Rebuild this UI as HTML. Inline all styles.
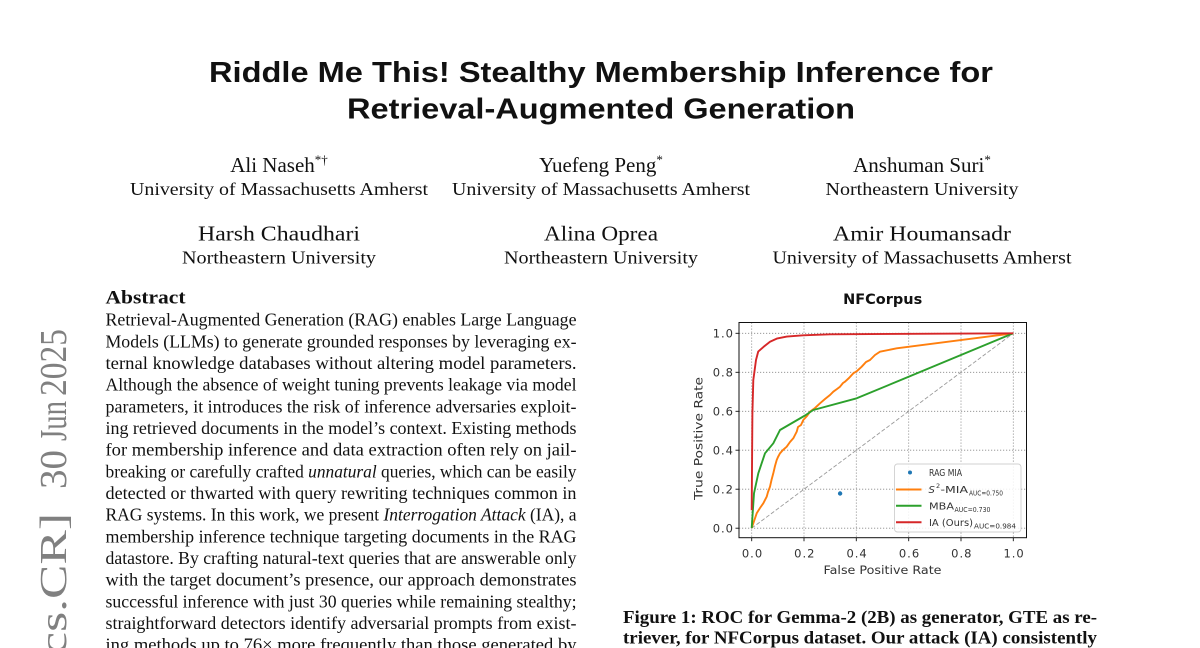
<!DOCTYPE html>
<html>
<head>
<meta charset="utf-8">
<style>
html,body{margin:0;padding:0;background:#fff;}
svg{display:block;}
.serif{font-family:"Liberation Serif","DejaVu Serif",serif;}
.sans{font-family:"Liberation Sans","DejaVu Sans",sans-serif;}
.dv{font-family:"DejaVu Sans","Liberation Sans",sans-serif;}
</style>
</head>
<body>
<svg width="1200" height="648" viewBox="0 0 1200 648" xmlns="http://www.w3.org/2000/svg">
<rect x="0" y="0" width="1200" height="648" fill="#fff"/>

<!-- arXiv stamp -->
<g class="serif" fill="#808080" font-size="38">
  <text transform="translate(66,396) rotate(-90)" textLength="67" lengthAdjust="spacingAndGlyphs">2025</text>
  <text transform="translate(66,441) rotate(-90)" textLength="40" lengthAdjust="spacingAndGlyphs">Jun</text>
  <text transform="translate(66,489) rotate(-90)" textLength="39" lengthAdjust="spacingAndGlyphs">30</text>
  <text transform="translate(66,672) rotate(-90)" textLength="159" lengthAdjust="spacingAndGlyphs">[cs.CR]</text>
</g>

<!-- Title -->
<g class="sans" font-weight="bold" font-size="29" fill="#111">
  <text x="209" y="82" textLength="784" lengthAdjust="spacingAndGlyphs">Riddle Me This! Stealthy Membership Inference for</text>
  <text x="347" y="118.5" textLength="508" lengthAdjust="spacingAndGlyphs">Retrieval-Augmented Generation</text>
</g>

<!-- Authors -->
<g class="serif" fill="#111" text-anchor="middle">
  <text x="279" y="172" font-size="21">Ali Naseh<tspan font-size="13" dy="-8">*†</tspan></text>
  <text x="601" y="172" font-size="21">Yuefeng Peng<tspan font-size="13" dy="-8">*</tspan></text>
  <text x="922" y="172" font-size="21">Anshuman Suri<tspan font-size="13" dy="-8">*</tspan></text>
  <text x="279" y="195" font-size="18" textLength="298" lengthAdjust="spacingAndGlyphs">University of Massachusetts Amherst</text>
  <text x="601" y="195" font-size="18" textLength="298" lengthAdjust="spacingAndGlyphs">University of Massachusetts Amherst</text>
  <text x="922" y="195" font-size="18" textLength="193" lengthAdjust="spacingAndGlyphs">Northeastern University</text>

  <text x="279" y="240.5" font-size="21" textLength="162" lengthAdjust="spacingAndGlyphs">Harsh Chaudhari</text>
  <text x="601" y="240.5" font-size="21" textLength="114" lengthAdjust="spacingAndGlyphs">Alina Oprea</text>
  <text x="922" y="240.5" font-size="21" textLength="178" lengthAdjust="spacingAndGlyphs">Amir Houmansadr</text>
  <text x="279" y="263.5" font-size="18" textLength="194" lengthAdjust="spacingAndGlyphs">Northeastern University</text>
  <text x="601" y="263.5" font-size="18" textLength="194" lengthAdjust="spacingAndGlyphs">Northeastern University</text>
  <text x="922" y="263.5" font-size="18" textLength="299" lengthAdjust="spacingAndGlyphs">University of Massachusetts Amherst</text>
</g>

<!-- Abstract -->
<g class="serif" fill="#111">
  <text x="105.5" y="303.3" font-size="19" font-weight="bold" textLength="80" lengthAdjust="spacingAndGlyphs">Abstract</text>
  <g font-size="18">
    <text x="105.5" y="325.7" textLength="471" lengthAdjust="spacingAndGlyphs">Retrieval-Augmented Generation (RAG) enables Large Language</text>
    <text x="105.5" y="347.3" textLength="471" lengthAdjust="spacingAndGlyphs">Models (LLMs) to generate grounded responses by leveraging ex-</text>
    <text x="105.5" y="369" textLength="471" lengthAdjust="spacingAndGlyphs">ternal knowledge databases without altering model parameters.</text>
    <text x="105.5" y="390.7" textLength="471" lengthAdjust="spacingAndGlyphs">Although the absence of weight tuning prevents leakage via model</text>
    <text x="105.5" y="412.3" textLength="471" lengthAdjust="spacingAndGlyphs">parameters, it introduces the risk of inference adversaries exploit-</text>
    <text x="105.5" y="434" textLength="471" lengthAdjust="spacingAndGlyphs">ing retrieved documents in the model’s context. Existing methods</text>
    <text x="105.5" y="455.7" textLength="471" lengthAdjust="spacingAndGlyphs">for membership inference and data extraction often rely on jail-</text>
    <text x="105.5" y="477.5" textLength="471" lengthAdjust="spacingAndGlyphs">breaking or carefully crafted <tspan font-style="italic">unnatural</tspan> queries, which can be easily</text>
    <text x="105.5" y="499" textLength="471" lengthAdjust="spacingAndGlyphs">detected or thwarted with query rewriting techniques common in</text>
    <text x="105.5" y="520.7" textLength="471" lengthAdjust="spacingAndGlyphs">RAG systems. In this work, we present <tspan font-style="italic">Interrogation Attack</tspan> (IA), a</text>
    <text x="105.5" y="542.3" textLength="471" lengthAdjust="spacingAndGlyphs">membership inference technique targeting documents in the RAG</text>
    <text x="105.5" y="564" textLength="471" lengthAdjust="spacingAndGlyphs">datastore. By crafting natural-text queries that are answerable only</text>
    <text x="105.5" y="585.7" textLength="471" lengthAdjust="spacingAndGlyphs">with the target document’s presence, our approach demonstrates</text>
    <text x="105.5" y="607.3" textLength="471" lengthAdjust="spacingAndGlyphs">successful inference with just 30 queries while remaining stealthy;</text>
    <text x="105.5" y="629" textLength="471" lengthAdjust="spacingAndGlyphs">straightforward detectors identify adversarial prompts from exist-</text>
    <text x="105.5" y="650.7" textLength="471" lengthAdjust="spacingAndGlyphs">ing methods up to 76× more frequently than those generated by</text>
  </g>
</g>

<!-- Caption -->
<g class="serif" fill="#111" font-size="18" font-weight="bold">
  <text x="623" y="623" textLength="474" lengthAdjust="spacingAndGlyphs">Figure 1: ROC for Gemma-2 (2B) as generator, GTE as re-</text>
  <text x="623" y="643.5" textLength="474" lengthAdjust="spacingAndGlyphs">triever, for NFCorpus dataset. Our attack (IA) consistently</text>
</g>

<!-- Chart -->
<g class="dv">
  <text x="882.7" y="304" font-size="14.5" font-weight="bold" text-anchor="middle" fill="#111">NFCorpus</text>

  <!-- grid -->
  <g stroke="#8a8a8a" stroke-width="0.8" stroke-dasharray="1.2,1.8" fill="none">
    <line x1="751.7" y1="322.5" x2="751.7" y2="537.7"/>
    <line x1="804.0" y1="322.5" x2="804.0" y2="537.7"/>
    <line x1="856.3" y1="322.5" x2="856.3" y2="537.7"/>
    <line x1="908.7" y1="322.5" x2="908.7" y2="537.7"/>
    <line x1="961.0" y1="322.5" x2="961.0" y2="537.7"/>
    <line x1="1013.3" y1="322.5" x2="1013.3" y2="537.7"/>
    <line x1="739" y1="528.2" x2="1026.5" y2="528.2"/>
    <line x1="739" y1="489.2" x2="1026.5" y2="489.2"/>
    <line x1="739" y1="450.2" x2="1026.5" y2="450.2"/>
    <line x1="739" y1="411.3" x2="1026.5" y2="411.3"/>
    <line x1="739" y1="372.3" x2="1026.5" y2="372.3"/>
    <line x1="739" y1="333.3" x2="1026.5" y2="333.3"/>
  </g>

  <!-- diagonal -->
  <line x1="751.7" y1="528.2" x2="1013.3" y2="333.3" stroke="#9a9a9a" stroke-width="0.9" stroke-dasharray="4,2"/>

  <!-- scatter point -->
  <circle cx="840.1" cy="493.5" r="2.2" fill="#1f77b4"/>

  <!-- orange S2-MIA -->
  <polyline fill="none" stroke="#ff7f0e" stroke-width="1.9" stroke-linejoin="round"
    points="751.7,528 756.7,513.3 760,508 763.3,503.3 766.7,496.7 768,492 770,486.7 771.5,480 773.3,473.3 775,466 776.7,460 778,457 780,453.3 783,450 786.7,446.7 790,442 793.3,438.3 795,435 796.7,431.7 798,427 801,425 803.3,420 807,416 810,411.7 815,408 820,403.3 825,399 830,395 833.3,391.7 837,389 840,386.7 843,383 845,381.7 849,378 853.3,373.3 857,371 861.7,366.7 866,362 870,360 875,355 880,351.7 896.7,348.3 1013.3,333.3"/>

  <!-- green MBA -->
  <polyline fill="none" stroke="#2ca02c" stroke-width="1.9" stroke-linejoin="round"
    points="751.7,528 754,493.3 758.3,473.3 765,453.3 773.3,443.3 780,430 805,415.5 813.3,410 856.7,398.3 1013.3,333.3"/>

  <!-- red IA -->
  <polyline fill="none" stroke="#d62728" stroke-width="1.9" stroke-linejoin="round"
    points="751.7,510.3 752.4,413.4 753.3,380.1 756.0,360.0 758.2,351.6 763.5,346.9 770.0,341.7 776.8,338.6 786.8,336.6 803.2,335.3 830.2,334.3 1013.3,333.3"/>

  <!-- spines -->
  <rect x="739" y="322.5" width="287.5" height="215.2" fill="none" stroke="#111" stroke-width="1"/>

  <!-- ticks -->
  <g stroke="#111" stroke-width="0.9">
    <line x1="751.7" y1="537.7" x2="751.7" y2="541.2"/>
    <line x1="804.0" y1="537.7" x2="804.0" y2="541.2"/>
    <line x1="856.3" y1="537.7" x2="856.3" y2="541.2"/>
    <line x1="908.7" y1="537.7" x2="908.7" y2="541.2"/>
    <line x1="961.0" y1="537.7" x2="961.0" y2="541.2"/>
    <line x1="1013.3" y1="537.7" x2="1013.3" y2="541.2"/>
    <line x1="735.5" y1="528.2" x2="739" y2="528.2"/>
    <line x1="735.5" y1="489.2" x2="739" y2="489.2"/>
    <line x1="735.5" y1="450.2" x2="739" y2="450.2"/>
    <line x1="735.5" y1="411.3" x2="739" y2="411.3"/>
    <line x1="735.5" y1="372.3" x2="739" y2="372.3"/>
    <line x1="735.5" y1="333.3" x2="739" y2="333.3"/>
  </g>

  <!-- tick labels -->
  <g font-size="11.5" fill="#333" text-anchor="middle" letter-spacing="1">
    <text x="752.5" y="557.5">0.0</text>
    <text x="804.8" y="557.5">0.2</text>
    <text x="857.1" y="557.5">0.4</text>
    <text x="909.5" y="557.5">0.6</text>
    <text x="961.8" y="557.5">0.8</text>
    <text x="1014.1" y="557.5">1.0</text>
  </g>
  <g font-size="11.5" fill="#333" text-anchor="end" letter-spacing="1">
    <text x="734" y="532.4">0.0</text>
    <text x="734" y="493.4">0.2</text>
    <text x="734" y="454.4">0.4</text>
    <text x="734" y="415.5">0.6</text>
    <text x="734" y="376.5">0.8</text>
    <text x="734" y="337.5">1.0</text>
  </g>

  <!-- axis labels -->
  <text x="882.5" y="574" font-size="11.2" fill="#333" text-anchor="middle" textLength="118" lengthAdjust="spacingAndGlyphs">False Positive Rate</text>
  <text transform="translate(702.5,438.5) rotate(-90)" font-size="11.2" fill="#333" text-anchor="middle" textLength="123" lengthAdjust="spacingAndGlyphs">True Positive Rate</text>

  <!-- legend -->
  <rect x="894.5" y="464" width="126.5" height="68" rx="3" ry="3" fill="#fff" fill-opacity="0.85" stroke="#d0d0d0" stroke-width="0.9"/>
  <circle cx="910" cy="472.5" r="2" fill="#1f77b4"/>
  <line x1="896" y1="489.5" x2="921.5" y2="489.5" stroke="#ff7f0e" stroke-width="2"/>
  <line x1="896" y1="505.8" x2="921.5" y2="505.8" stroke="#2ca02c" stroke-width="2"/>
  <line x1="896" y1="522.3" x2="921.5" y2="522.3" stroke="#d62728" stroke-width="2"/>
  <g font-size="10" fill="#333">
    <text x="929" y="476" textLength="33" lengthAdjust="spacingAndGlyphs">RAG MIA</text>
    <text x="928.5" y="493" font-style="italic">S</text>
    <text x="936" y="488" font-size="6.5">2</text>
    <text x="940.5" y="493" textLength="27.5" lengthAdjust="spacingAndGlyphs">-MIA</text>
    <text x="969" y="495.5" font-size="7" textLength="34" lengthAdjust="spacingAndGlyphs">AUC=0.750</text>
    <text x="929" y="509.5" textLength="25" lengthAdjust="spacingAndGlyphs">MBA</text>
    <text x="954.5" y="512" font-size="7" textLength="36" lengthAdjust="spacingAndGlyphs">AUC=0.730</text>
    <text x="929" y="526.2" textLength="44" lengthAdjust="spacingAndGlyphs">IA (Ours)</text>
    <text x="974" y="528.7" font-size="7" textLength="42" lengthAdjust="spacingAndGlyphs">AUC=0.984</text>
  </g>
</g>
</svg>
</body>
</html>
